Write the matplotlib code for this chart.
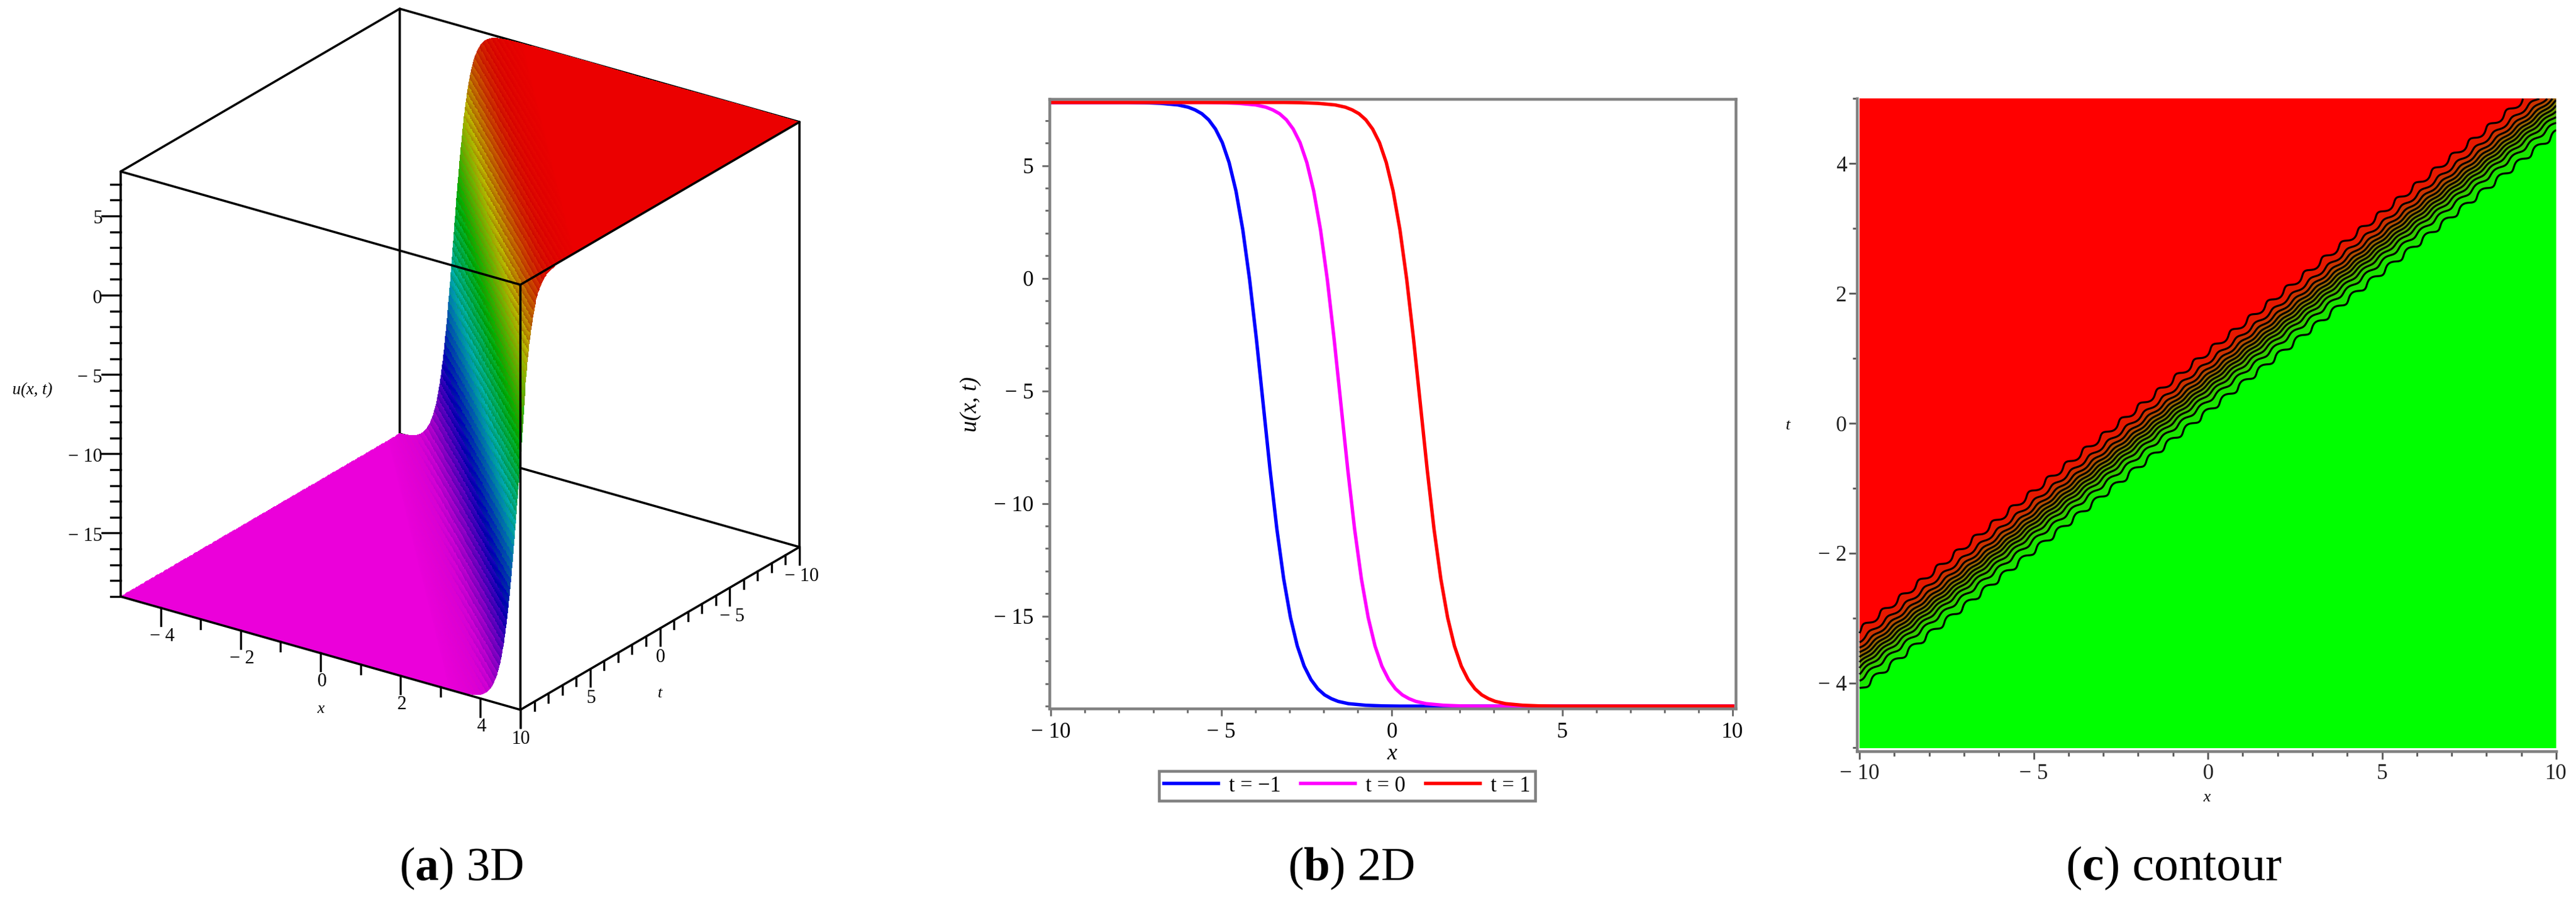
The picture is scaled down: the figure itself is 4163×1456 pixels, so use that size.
import numpy as np
import matplotlib
matplotlib.use("Agg")
import matplotlib.pyplot as plt
from matplotlib.colors import hsv_to_rgb
from matplotlib.ticker import FixedLocator

plt.rcParams['font.family'] = ['Liberation Serif', 'DejaVu Serif']
plt.rcParams['mathtext.fontset'] = 'custom'
plt.rcParams['mathtext.rm'] = 'Liberation Serif'
plt.rcParams['mathtext.bf'] = 'Liberation Serif:bold'
plt.rcParams['mathtext.it'] = 'Liberation Serif:italic'

# ---------- values ----------
x_t_m1 = [-10, -7.77, -7.27, -6.77, -6.27, -5.97, -5.77, -5.57, -5.37, -5.17, -4.97,
          -4.77, -4.57, -4.37, -4.17, -3.97, -3.77, -3.57, -3.37, -3.17, -2.97, -2.77,
          -2.57, -2.37, -2.17, -1.97, -1.77, -1.57, -1.27, -0.77, -0.27, 0.23, 10]
x_t_0 = [-10, -5.49, -4.99, -4.49, -3.99, -3.69, -3.49, -3.29, -3.09, -2.89, -2.69,
         -2.49, -2.29, -2.09, -1.89, -1.69, -1.49, -1.29, -1.09, -0.89, -0.69, -0.49,
         -0.29, -0.09, 0.11, 0.31, 0.51, 0.71, 1.01, 1.51, 2.01, 2.51, 10]
x_t_1 = [-10, -3.16, -2.66, -2.16, -1.66, -1.36, -1.16, -0.96, -0.76, -0.56, -0.36,
         -0.16, 0.04, 0.24, 0.44, 0.64, 0.84, 1.04, 1.24, 1.44, 1.64, 1.84,
         2.04, 2.24, 2.44, 2.64, 2.84, 3.04, 3.34, 3.84, 4.34, 4.84, 10]
u_curve = [7.80, 7.80, 7.79, 7.76, 7.69, 7.59, 7.47, 7.30, 7.03, 6.62, 6.02,
           5.13, 3.87, 2.15, -0.06, -2.70, -5.60, -8.50, -11.14, -13.35, -15.07, -16.33,
           -17.22, -17.82, -18.23, -18.50, -18.67, -18.79, -18.89, -18.96, -18.99, -19.00, -19.00]
curve_labels = ['t = \u22121', 't = 0', 't = 1']
curve_colors = ['#0000FF', '#FF00FF', '#FF0000']
front_speed = 2.33
front_centre = -1.49
u_low, u_high = -19.0, 7.8
contour_count = 10

x3d_ticks = [-4, -2, 0, 2, 4]
t3d_ticks = [-10, -5, 0, 5, 10]
u_ticks = [-15, -10, -5, 0, 5]
x2d_ticks = [-10, -5, 0, 5, 10]
t2d_ticks = [-4, -2, 0, 2, 4]
captions = [r'($\mathbf{a}$) 3D', r'($\mathbf{b}$) 2D', r'($\mathbf{c}$) contour']
caption_sizes = [55, 55, 57]

W, H = 4163, 1456
PT = 72 / 100
fig = plt.figure(figsize=((W + 0.01) / 100, (H + 0.01) / 100), dpi=100, facecolor='white')


def lab(v):
    return f'\u2212 {abs(v)}' if v < 0 else str(v)


def rect(l, t, r, b):
    return [l / W, 1 - b / H, (r - l) / W, (b - t) / H]


def field(x_pos):
    return np.interp(x_pos, x_t_0, u_curve)


# ---------- (a) 3D, orthographic projection into figure pixels ----------
ov = fig.add_axes([0, 0, 1, 1], zorder=5)
ov.set_xlim(0, W)
ov.set_ylim(H, 0)
ov.axis('off')
ov.patch.set_alpha(0)

ORIG = np.array([841.0, 1147.0])
EX = np.array([64.6, 18.3])
ET = np.array([-22.55, 13.15])
EU = np.array([0.0, -25.63])


def proj(x, t, u):
    x, t, u = np.asarray(x, float), np.asarray(t, float), np.asarray(u, float)
    px = ORIG[0] + EX[0] * (x - 5) + ET[0] * (t - 10) + EU[0] * (u - u_low)
    py = ORIG[1] + EX[1] * (x - 5) + ET[1] * (t - 10) + EU[1] * (u - u_low)
    return px, py


def edge(a, b, z, lw=3.6):
    px, py = proj([a[0], b[0]], [a[1], b[1]], [a[2], b[2]])
    ov.plot(px, py, color='black', lw=lw * PT, zorder=z, solid_capstyle='round')


L, Hi = u_low, u_high
# hidden-by-surface edges
edge((-5, -10, L), (-5, -10, Hi), 1)
edge((-5, -10, L), (5, -10, L), 1)
edge((-5, -10, Hi), (5, -10, Hi), 1)
edge((-5, -10, Hi), (-5, 10, Hi), 1)
edge((5, -10, L), (5, -10, Hi), 1)

# surface mesh, dense across the front
t_mesh = np.linspace(-10, 10, 161)
s_mesh = np.concatenate([np.linspace(-40, -6, 12)[:-1], np.linspace(-6, 3, 901),
                         np.linspace(3, 40, 12)[1:]])
T3, S3 = np.meshgrid(t_mesh, s_mesh, indexing='ij')
X3 = np.clip((T3 - S3) / front_speed, -5, 5)
U3 = field(T3 - front_speed * X3)
PX, PY = proj(X3, T3, U3)

Uc = 0.25 * (U3[:-1, :-1] + U3[1:, :-1] + U3[:-1, 1:] + U3[1:, 1:])
Pxc = 0.25 * (PX[:-1, :-1] + PX[1:, :-1] + PX[:-1, 1:] + PX[1:, 1:])
Pyc = 0.25 * (PY[:-1, :-1] + PY[1:, :-1] + PY[:-1, 1:] + PY[1:, 1:])
mid, half = 0.5 * (u_low + u_high), 0.5 * (u_high - u_low)
wall = np.clip(1 - ((Uc - mid) / half) ** 2, 0, 1) ** 0.4
stripe = ((1.7 * Pxc - Pyc) / 15.5) % 1.0 - 0.5
hue = 0.845 * (u_high - Uc) / (u_high - u_low) + 0.06 * stripe * wall
hue = np.clip(hue, 0, 1)
val = 0.92 - 0.27 * wall + 0.14 * stripe * wall
rgb = hsv_to_rgb(np.dstack([hue, np.ones_like(hue), np.clip(val, 0, 1)]))
ov.pcolormesh(PX, PY, rgb, shading='flat', antialiased=False, linewidth=0, zorder=2)

# visible edges
edge((-5, 10, Hi), (5, 10, Hi), 3)
edge((5, 10, Hi), (5, -10, Hi), 3)
edge((-5, 10, L), (-5, 10, Hi), 3)
edge((5, 10, L), (5, 10, Hi), 3)
edge((-5, 10, L), (5, 10, L), 3)
edge((5, 10, L), (5, -10, L), 3)

FS3 = 22
# x ticks
for v in range(-4, 6):
    major = v in x3d_ticks or v == 5
    px, py = proj(v, 10, L)
    ov.plot([px, px], [py, py + (29 if major else 15)], color='black', lw=3.4 * PT, zorder=3)
    if v in x3d_ticks:
        ov.text(px + 2, py + 46, lab(v), ha='center', va='center', fontsize=FS3, zorder=4)
px, py = proj(0, 10, L)
ov.text(px, py + 90, 'x', style='italic', ha='center', va='center', fontsize=19, zorder=4)
# t ticks
for v in range(-10, 11):
    major = v in t3d_ticks
    px, py = proj(5, v, L)
    ov.plot([px, px], [py, py + (28 if major else 14)], color='black', lw=3.4 * PT, zorder=3)
    if major:
        ov.text(px + (4 if v < 0 else 1), py + 47, lab(v), ha='center', va='center', fontsize=FS3, zorder=4)
px, py = proj(5, 0, L)
ov.text(px, py + 105, 't', style='italic', ha='center', va='center', fontsize=19, zorder=4)
# u ticks
for v in range(-19, 8):
    major = v in u_ticks
    px, py = proj(-5, 10, v)
    ov.plot([px, px - (30 if major else 16)], [py, py], color='black', lw=3.4 * PT, zorder=3)
    if major:
        ov.text(px - 30, py + 5, lab(v), ha='right', va='center', fontsize=FS3, zorder=4)
ov.text(52, 631, 'u(x, t)', style='italic', ha='center', va='center', fontsize=19.5, zorder=4)

# ---------- (b) 2D ----------
GRAY = '#808080'
ax = fig.add_axes(rect(1695.5, 160.5, 2805, 1145.5))
ax.set_xlim(-10.05, 10.09)
ax.set_ylim(-19.12, 7.94)
for xs, col, lb in zip([x_t_m1, x_t_0, x_t_1], curve_colors, curve_labels):
    ax.plot(xs, u_curve, color=col, lw=5.5 * PT, label=lb, solid_joinstyle='round')
for s in ax.spines.values():
    s.set_linewidth(4.5 * PT)
    s.set_color(GRAY)
ax.set_xticks(x2d_ticks, [lab(v) for v in x2d_ticks])
ax.set_yticks(u_ticks, [lab(v) for v in u_ticks])
ax.xaxis.set_minor_locator(FixedLocator(list(range(-10, 11))))
ax.yaxis.set_minor_locator(FixedLocator(list(range(-19, 8))))
ax.tick_params(which='major', length=12 * PT, width=3 * PT, color='#707070', labelsize=25.5, pad=9 * PT)
ax.tick_params(which='minor', length=7 * PT, width=3 * PT, color='#707070')
ax.tick_params(axis='y', which='major', pad=13 * PT)
fig.text(2249 / W, 1 - 1218 / H, 'x', style='italic', ha='center', va='center', fontsize=26)
fig.text(1569 / W, 1 - 653 / H, 'u(x, t)', style='italic', rotation=90, ha='center', va='center', fontsize=27)


def make_legend(spacing, pad):
    lg = ax.legend(ncol=3, loc='upper left', bbox_to_anchor=(1873 / W, 1 - 1246 / H),
                   bbox_transform=fig.transFigure, borderaxespad=0, fancybox=False,
                   edgecolor=GRAY, framealpha=1, fontsize=25, handlelength=2.54,
                   handletextpad=0.49, columnspacing=spacing, borderpad=pad)
    lg.get_frame().set_linewidth(4.5 * PT)
    return lg


# fit the legend box to the width and height it has in the picture
spacing, pad = 0.6, 0.28
leg = make_legend(spacing, pad)
fig.canvas.draw()
ext = leg.get_window_extent()
font_px = 25 / PT
spacing = max(0.1, spacing + (612 - ext.width) / (2 * font_px))
pad = max(0.05, pad + (48 - ext.height) / (2 * font_px))
leg = make_legend(spacing, pad)

# ---------- (c) contour ----------
ac = fig.add_axes(rect(3000.5, 159.5, 4131, 1214))
gx = np.linspace(-10, 10, 1201)
gt = np.linspace(-5, 5, 801)
GX, GT = np.meshgrid(gx, gt)
GD = GX - front_speed * GT
# stair-step wobble of the coarse plotting grid: stronger on the outer contours
wobble_period_px = 38.0
along = GX * 43.9 + GT * 65.6
reach = np.clip(np.abs(GD - front_centre) / 1.1, 0, 1.4)
GZ = field(GD + (0.035 + 0.085 * reach ** 2) * np.sin(2 * np.pi * along / wobble_period_px))
lv = list(np.linspace(u_low, u_high, contour_count + 2)[1:-1])
fill_levels = [-100] + lv + [100]
fill_colors = [(i / contour_count, 1 - i / contour_count, 0) for i in range(contour_count + 1)]
ac.contourf(GX, GT, GZ, levels=fill_levels, colors=fill_colors, antialiased=False)
ac.contour(GX, GT, GZ, levels=lv, colors='black', linewidths=3.2 * PT, linestyles='solid')
ac.set_xlim(-10 - 4.5 / 56.3, 10)
ac.set_ylim(-5 - 5.5 / 104.9, 5)
for k in ['top', 'right']:
    ac.spines[k].set_visible(False)
for k in ['left', 'bottom']:
    ac.spines[k].set_linewidth(4.5 * PT)
    ac.spines[k].set_color(GRAY)
ac.set_xticks(x2d_ticks, [lab(v) for v in x2d_ticks])
ac.set_yticks(t2d_ticks, [lab(v) for v in t2d_ticks])
ac.xaxis.set_minor_locator(FixedLocator(list(range(-10, 11))))
ac.yaxis.set_minor_locator(FixedLocator(list(range(-5, 6))))
ac.tick_params(which='major', length=13 * PT, width=3 * PT, color='#606060', labelsize=25.5, pad=7 * PT, labelcolor='#222222')
ac.tick_params(which='minor', length=7.5 * PT, width=3 * PT, color='#606060')
ac.tick_params(axis='y', which='major', pad=3 * PT)
fig.text(3566 / W, 1 - 1289 / H, 'x', style='italic', ha='center', va='center', fontsize=19)
fig.text(2890 / W, 1 - 688 / H, 't', style='italic', ha='center', va='center', fontsize=19)

# ---------- captions ----------
for cx, cap, fs in zip([745, 2183, 3513], captions, caption_sizes):
    fig.text(cx / W, 1 - 1403 / H, cap, ha='center', va='center', fontsize=fs, color='black')

fig.savefig('out.png', dpi=100, facecolor='white')
